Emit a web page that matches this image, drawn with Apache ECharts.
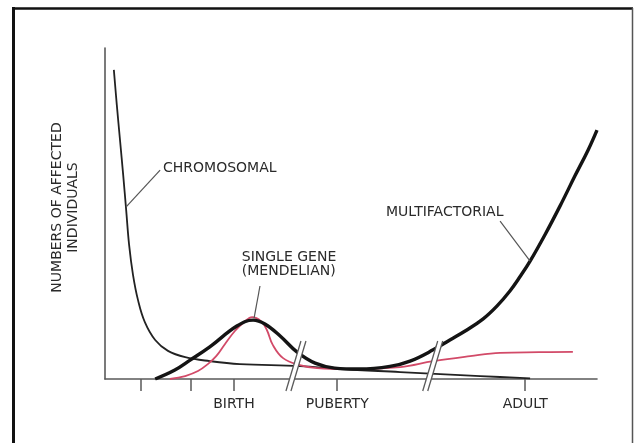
<!DOCTYPE html>
<html><head><meta charset="utf-8">
<script src="https://cdn.jsdelivr.net/npm/echarts@6/dist/echarts.min.js"></script>
<style>html,body{margin:0;padding:0;background:#fff}#c{width:634px;height:443px}</style>
</head><body><div id="c"></div>
<script>
// Relative age scale (0-100) and relative numbers of affected individuals (0-100)
const chromosomal = [[1.8,93.4],[2.4,82.8],[3.05,72.2],[3.7,61.6],[4.3,51.1],[4.9,40.5],[5.7,31.4],[6.7,23.9],[8.1,17.2],[10.2,11.8],[12.8,8.5],[16.3,6.6],[21.3,5.4],[27.4,4.5],[39.6,3.9],[47.8,3.0],[60.0,2.1],[72.2,1.2],[80.3,0.6],[86.4,0.2]];
const singleGene = [[13.2,0],[16.3,0.9],[18.9,2.4],[20.9,4.5],[22.6,6.9],[24.4,10.6],[26.4,14.5],[28.3,17.2],[29.9,18.7],[31.7,17.5],[32.9,14.8],[34.1,10.3],[36.2,6.3],[39.6,4.2],[43.1,3.3],[49.8,3.0],[60.0,3.6],[66.7,5.4],[74.2,6.9],[80.3,7.9],[88.2,8.1],[95.1,8.2]];
const multifactorial = [[10.2,0],[14.2,2.7],[17.3,5.7],[21.3,9.7],[26.8,16.0],[30.1,17.8],[32.5,16.6],[35.6,13.0],[39.0,8.2],[42.7,4.8],[46.7,3.3],[51.8,3.0],[57.9,3.8],[62.0,5.4],[66.7,8.8],[70.1,11.8],[73.2,14.5],[76.8,18.1],[79.7,22.1],[82.3,26.6],[84.3,30.8],[86.4,35.6],[89.4,43.5],[92.5,52.3],[95.5,61.3],[98.2,69.2],[100,75.2]];
const tickPositions = [7.3, 17.5, 26.2, 47.2, 85.4];
const labelPositions = [26.2, 47.2, 85.4];
const tickLabels = ['BIRTH', 'PUBERTY', 'ADULT'];
const axisBreaks = [38.2, 66.0];
const yAxisTitle = 'NUMBERS OF AFFECTED\nINDIVIDUALS';
// annotation: label, leader from (on curve), leader to, text anchor
const annotations = [
  {text: 'CHROMOSOMAL', from: [4.3, 52.0], to: [11.2, 63.1], at: [11.8, 63.7]},
  {text: 'SINGLE GENE\n(MENDELIAN)', from: [30.3, 18.4], to: [31.5, 28.1], at: [27.8, 34.6]},
  {text: 'MULTIFACTORIAL', from: [86.4, 35.6], to: [80.3, 47.7], at: [57.1, 50.2]}
];

const FONT = 'DejaVu Sans';
const TEXT = '#2a2a2a';
const chart = echarts.init(document.getElementById('c'), null, {renderer: 'canvas'});
const option = {
  backgroundColor: '#fff',
  animation: false,
  grid: {left: 105, right: 37, top: 48, bottom: 64},
  xAxis: {
    type: 'value', min: 0, max: 100,
    splitLine: {show: false},
    axisLine: {show: true, lineStyle: {color: '#5a5a5a', width: 1.6}},
    axisTick: {show: true, customValues: tickPositions, length: 12, inside: false, lineStyle: {color: '#5a5a5a', width: 1.5}},
    axisLabel: {show: true, customValues: labelPositions, margin: 18,
      formatter: v => { const i = labelPositions.indexOf(v); return i >= 0 ? tickLabels[i] : ''; },
      color: TEXT, fontFamily: FONT, fontSize: 14}
  },
  yAxis: {
    type: 'value', min: 0, max: 100,
    splitLine: {show: false},
    axisLine: {show: true, lineStyle: {color: '#5a5a5a', width: 1.6}},
    axisTick: {show: false}, axisLabel: {show: false},
    name: yAxisTitle, nameLocation: 'middle', nameRotate: 90, nameGap: 24,
    nameTextStyle: {color: TEXT, fontFamily: FONT, fontSize: 14, lineHeight: 16, align: 'center', padding: [0, 0, 0, 12]}
  },
  series: [
    {type: 'line', name: 'Chromosomal', data: chromosomal, smooth: 0.4, showSymbol: false, symbol: 'none',
      lineStyle: {color: '#222', width: 1.8}, z: 3},
    {type: 'line', name: 'Single gene', data: singleGene, smooth: 0.4, showSymbol: false, symbol: 'none',
      lineStyle: {color: '#d24a68', width: 1.8}, z: 4},
    {type: 'line', name: 'Multifactorial', data: multifactorial, smooth: 0.4, showSymbol: false, symbol: 'none',
      lineStyle: {color: '#141414', width: 3.4}, z: 5},
    {type: 'custom', name: 'breaks', data: axisBreaks.map(v => [v]), clip: false, z: 10,
      renderItem: function (params, api) {
        const p = api.coord([api.value(0), 0]);
        const cx = p[0], cy = p[1];
        const b = 12, t = -38, dx = 15;
        return {type: 'group', children: [
          {type: 'polygon', shape: {points: [[cx - 7, cy + b], [cx - 2, cy + b], [cx - 2 + dx, cy + t], [cx - 7 + dx, cy + t]]}, style: {fill: '#fff'}},
          {type: 'line', shape: {x1: cx - 7, y1: cy + b, x2: cx - 7 + dx, y2: cy + t}, style: {stroke: '#5a5a5a', lineWidth: 1.3}},
          {type: 'line', shape: {x1: cx - 2, y1: cy + b, x2: cx - 2 + dx, y2: cy + t}, style: {stroke: '#5a5a5a', lineWidth: 1.3}}
        ]};
      }
    }
  ]
};
chart.setOption(option);

const g = [
  {type: 'line', shape: {x1: 13.5, y1: 7, x2: 13.5, y2: 443}, style: {stroke: '#111', lineWidth: 3}},
  {type: 'line', shape: {x1: 12, y1: 8.5, x2: 633, y2: 8.5}, style: {stroke: '#111', lineWidth: 2.5}},
  {type: 'line', shape: {x1: 632.5, y1: 8, x2: 632.5, y2: 443}, style: {stroke: '#555', lineWidth: 1.5}}
];
annotations.forEach(a => {
  const f = chart.convertToPixel({gridIndex: 0}, a.from);
  const t = chart.convertToPixel({gridIndex: 0}, a.to);
  const p = chart.convertToPixel({gridIndex: 0}, a.at);
  g.push({type: 'line', shape: {x1: f[0], y1: f[1], x2: t[0], y2: t[1]}, style: {stroke: '#555', lineWidth: 1.2}, z: 20});
  g.push({type: 'text', x: p[0], y: p[1], style: {text: a.text, fill: TEXT, font: '14px "' + FONT + '"', align: 'left', verticalAlign: 'middle', lineHeight: 14}, z: 20});
});
chart.setOption({graphic: g});
</script></body></html>
